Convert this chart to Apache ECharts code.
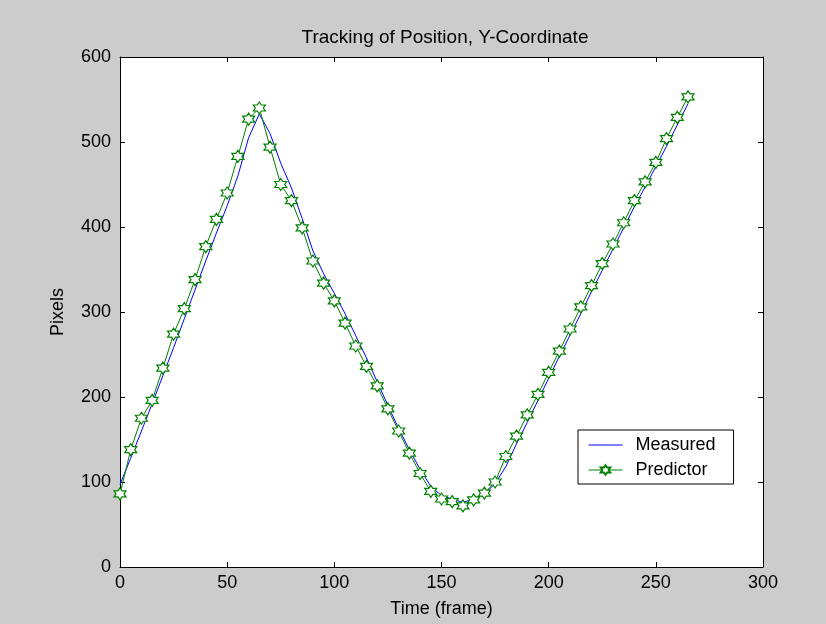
<!DOCTYPE html>
<html><head><meta charset="utf-8">
<script src="https://cdn.jsdelivr.net/npm/echarts@6/dist/echarts.min.js"></script>
<style>html,body{margin:0;padding:0;background:#cccccc}#c{width:826px;height:624px}</style>
</head><body><div id="c"></div>
<script>
var frames = [0,5,10,15,20,25,30,35,40,45,50,55,60,65,70,75,80,85,90,95,100,105,110,115,120,125,130,135,140,145,150,155,160,165,170,175,180,185,190,195,200,205,210,215,220,225,230,235,240,245,250,255,260,265];
var measured = [97,128,160,192,225,258,292,326,360,393,425,460,505,533,510,475,446,410,372,345,322,298,272,246,218,190,163,138,115,95,84,80,76,80,86,98,118,145,170,196,222,248,273,298,324,349,374,399,424,447,471,495,520,545];
var predictor = [86,138,175,196,234,274,304,338,377,409,440,483,527,540,494,450,431,399,360,334,313,287,260,236,213,186,160,134,110,89,80,77,72,79,87,100,130,154,179,203,229,254,280,306,331,357,380,405,431,453,476,504,529,553];
var xTicks = [0,50,100,150,200,250,300];
var yTicks = [0,100,200,300,400,500,600];

var star = 'path://M10 0 L12.89 5 L18.66 5 L15.77 10 L18.66 15 L12.89 15 L10 20 L7.11 15 L1.34 15 L4.23 10 L1.34 5 L7.11 5 Z';
var font = 'Liberation Sans, Arial, sans-serif';
function pairs(v){ return frames.map(function(f,i){return [f,v[i]];}); }

var chart = echarts.init(document.getElementById('c'));
var axisCommon = {
  axisLine:{show:true,onZero:false,lineStyle:{color:'#000',width:1}},
  axisTick:{show:true,inside:true,length:5,lineStyle:{color:'#000'}},
  splitLine:{show:false}
};
chart.setOption({
  backgroundColor:'#cccccc',
  animation:false,
  title:{text:'Tracking of Position, Y-Coordinate',left:440,textAlign:'center',top:23,
    textStyle:{fontFamily:font,fontSize:19,fontWeight:'normal',color:'#000'}},
  grid:{left:120,right:63,top:57,bottom:57,show:true,backgroundColor:'#ffffff',borderWidth:0},
  legend:{
    data:[{name:'Measured',icon:'path://M0 0 H34 V1 H0 Z'},{name:'Predictor'}],
    orient:'vertical',left:578,top:430,
    itemWidth:34,itemHeight:12,itemGap:7,
    backgroundColor:'#ffffff',borderColor:'#000',borderWidth:1,
    padding:[6,18,5,10],
    lineStyle:{width:1},
    textStyle:{fontFamily:font,fontSize:18,color:'#000',padding:[0,0,0,8]}
  },
  xAxis:[
    Object.assign({type:'value',min:0,max:300,interval:50,position:'bottom',
      name:'Time (frame)',nameLocation:'middle',nameGap:33,
      nameTextStyle:{fontFamily:font,fontSize:18,color:'#000'},
      axisLabel:{fontFamily:font,fontSize:18,color:'#000',margin:7}},axisCommon),
    Object.assign({type:'value',min:0,max:300,interval:50,position:'top',
      axisLabel:{show:false}},axisCommon)
  ],
  yAxis:[
    Object.assign({type:'value',min:0,max:600,interval:100,position:'left',
      name:'Pixels',nameLocation:'middle',nameGap:53,
      nameTextStyle:{fontFamily:font,fontSize:18,color:'#000'},
      axisLabel:{fontFamily:font,fontSize:18,color:'#000',margin:9}},axisCommon),
    Object.assign({type:'value',min:0,max:600,interval:100,position:'right',
      axisLabel:{show:false}},axisCommon)
  ],
  series:[
    {name:'Measured',type:'line',data:pairs(measured),showSymbol:false,symbol:'none',
      lineStyle:{color:'#0000ff',width:1},itemStyle:{color:'#0000ff'}},
    {name:'Predictor',type:'line',data:pairs(predictor),symbol:star,symbolSize:12,showSymbol:true,
      lineStyle:{color:'#008000',width:1},
      itemStyle:{color:'#ffffff',borderColor:'#008000',borderWidth:1.2}}
  ]
});
</script></body></html>
